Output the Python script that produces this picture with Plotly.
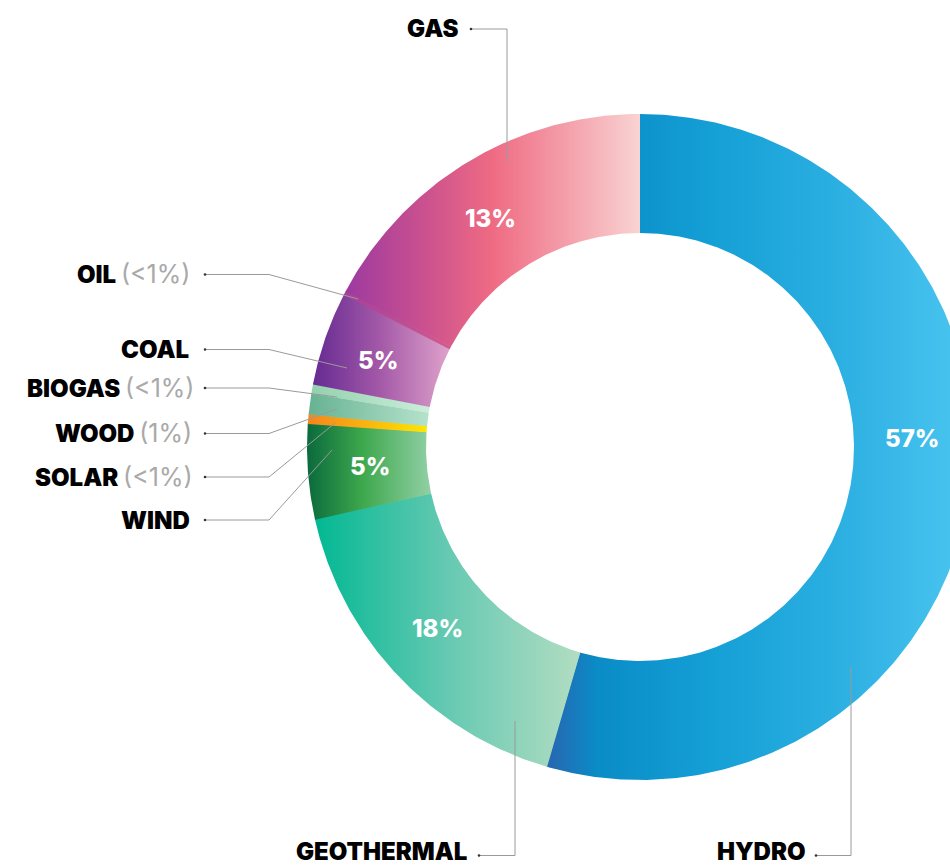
import numpy as np
import plotly.graph_objects as go

# ---------------- data (clockwise from 12 o'clock) ----------------
sources = ["HYDRO", "GEOTHERMAL", "WIND", "SOLAR", "WOOD", "BIOGAS", "COAL", "OIL", "GAS"]
shares = [54.5, 17.0, 4.6, 0.45, 1.0, 0.45, 4.55, 0.2, 17.25]   # drawn share of the ring (%)
share_labels = ["57%", "18%", "5%", "<1%", "1%", "<1%", "5%", "<1%", "13%"]
inside_label = [True, True, True, False, False, False, True, False, True]

# ---------------- styling ----------------
gradients = {
    "HYDRO": [[0, "#2866b0"], [0.12, "#0a8cc7"], [0.4, "#15a0d6"], [0.7, "#2db0e2"], [1, "#4cc6f1"]],
    "GEOTHERMAL": [[0, "#02b893"], [0.5, "#66c9b2"], [1, "#b2ddc2"]],
    "WIND": [[0, "#0a6a3c"], [0.45, "#3ea84d"], [1, "#92d0a6"]],
    "SOLAR": [[0, "#f5851e"], [1, "#ffe600"]],
    "WOOD": [[0, "#66b292"], [1, "#b6e2cc"]],
    "BIOGAS": [[0, "#94d0ae"], [1, "#cbeedb"]],
    "COAL": [[0, "#652a92"], [0.5, "#a55aa8"], [1, "#dea2cb"]],
    "OIL": [[0, "#a43f9a"], [1, "#d35a8c"]],
    "GAS": [[0, "#9c3aa0"], [0.25, "#c84f90"], [0.5, "#ef6b83"], [1, "#f9d3d2"]],
}
CX, CY = 640, 447
R_OUT, R_IN = 333, 214
LABEL_FONT = "Inter, DejaVu Sans, sans-serif"

fig = go.Figure()

# ring segments drawn from the shares through the (pixel-scaled) axes
start = 0.0
for name, val in zip(sources, shares):
    a0 = start / 100 * 360
    a1 = (start + val) / 100 * 360
    start += val
    a1d = min(a1 + 0.12, 360)  # tiny overlap to hide seams
    n = max(4, int((a1d - a0) * 2))
    t = np.radians(np.linspace(a0, a1d, n))
    xo = CX + R_OUT * np.sin(t)
    yo = CY - R_OUT * np.cos(t)
    xi = CX + R_IN * np.sin(t[::-1])
    yi = CY - R_IN * np.cos(t[::-1])
    xs = np.concatenate([xo, xi, xo[:1]])
    ys = np.concatenate([yo, yi, yo[:1]])
    fig.add_trace(go.Scatter(
        x=xs, y=ys, mode="lines", fill="toself", line=dict(width=0),
        fillgradient=dict(type="horizontal", colorscale=gradients[name]),
        hoverinfo="skip", showlegend=False, name=name,
    ))

# ---------------- in-ring percentage labels ----------------
pct_pos = {"HYDRO": (912, 438), "GEOTHERMAL": (437, 628), "WIND": (370, 466),
           "COAL": (378, 360), "GAS": (490, 218)}
annotations = []
for name, lab, show in zip(sources, share_labels, inside_label):
    if show:
        x, y = pct_pos[name]
        annotations.append(dict(x=x, y=y, xref="x", yref="y", text=lab,
                                showarrow=False, xanchor="center", yanchor="middle",
                                font=dict(family=LABEL_FONT, size=24, color="white", weight=800)))

# ---------------- outside labels with leader lines ----------------
leaders = {
    "GAS": (461, 28, [(471, 29), (507, 29), (507, 162)]),
    "OIL": (192, 274, [(205, 274.5), (269, 274.5), (358, 299)]),
    "COAL": (191, 349, [(205, 349.5), (269, 349.5), (347, 368)]),
    "BIOGAS": (196, 388, [(205, 388), (269, 388), (337, 397)]),
    "WOOD": (194, 433, [(205, 433.5), (269, 433.5), (337, 409)]),
    "SOLAR": (195, 477, [(205, 477), (269, 477), (335, 423)]),
    "WIND": (192, 520, [(205, 520), (269, 520), (332, 450)]),
    "GEOTHERMAL": (469, 851, [(479, 855.5), (515, 855.5), (515, 721)]),
    "HYDRO": (808, 851, [(816, 855.5), (851, 855.5), (851, 666)]),
}
shapes = []
for name, lab, show in zip(sources, share_labels, inside_label):
    rx, ry, pts = leaders[name]
    if show:
        txt = name
    else:
        txt = ("%s <span style='color:#a9a9a9;font-weight:400;font-size:25px'>(%s)</span>"
               % (name, lab.replace("<", "&lt;")))
    annotations.append(dict(x=rx, y=ry, xref="x", yref="y", text=txt, showarrow=False,
                            xanchor="right", yanchor="middle",
                            font=dict(family=LABEL_FONT, size=24, color="#000000", weight=900)))
    path = "M %s,%s " % pts[0] + " ".join("L %s,%s" % p for p in pts[1:])
    shapes.append(dict(type="path", path=path, xref="x", yref="y",
                       line=dict(color="#9a9a9a", width=1), layer="above"))
    dx, dy = pts[0]
    shapes.append(dict(type="circle", xref="x", yref="y", x0=dx - 1.3, x1=dx + 1.3,
                       y0=dy - 1.3, y1=dy + 1.3, fillcolor="#333333",
                       line=dict(width=0), layer="above"))

fig.update_layout(
    width=950, height=865,
    margin=dict(l=0, r=0, t=0, b=0),
    paper_bgcolor="white", plot_bgcolor="white",
    xaxis=dict(range=[0, 950], visible=False, fixedrange=True),
    yaxis=dict(range=[865, 0], visible=False, fixedrange=True),
    annotations=annotations, shapes=shapes,
    showlegend=False,
)
fig.write_html("out.html")
